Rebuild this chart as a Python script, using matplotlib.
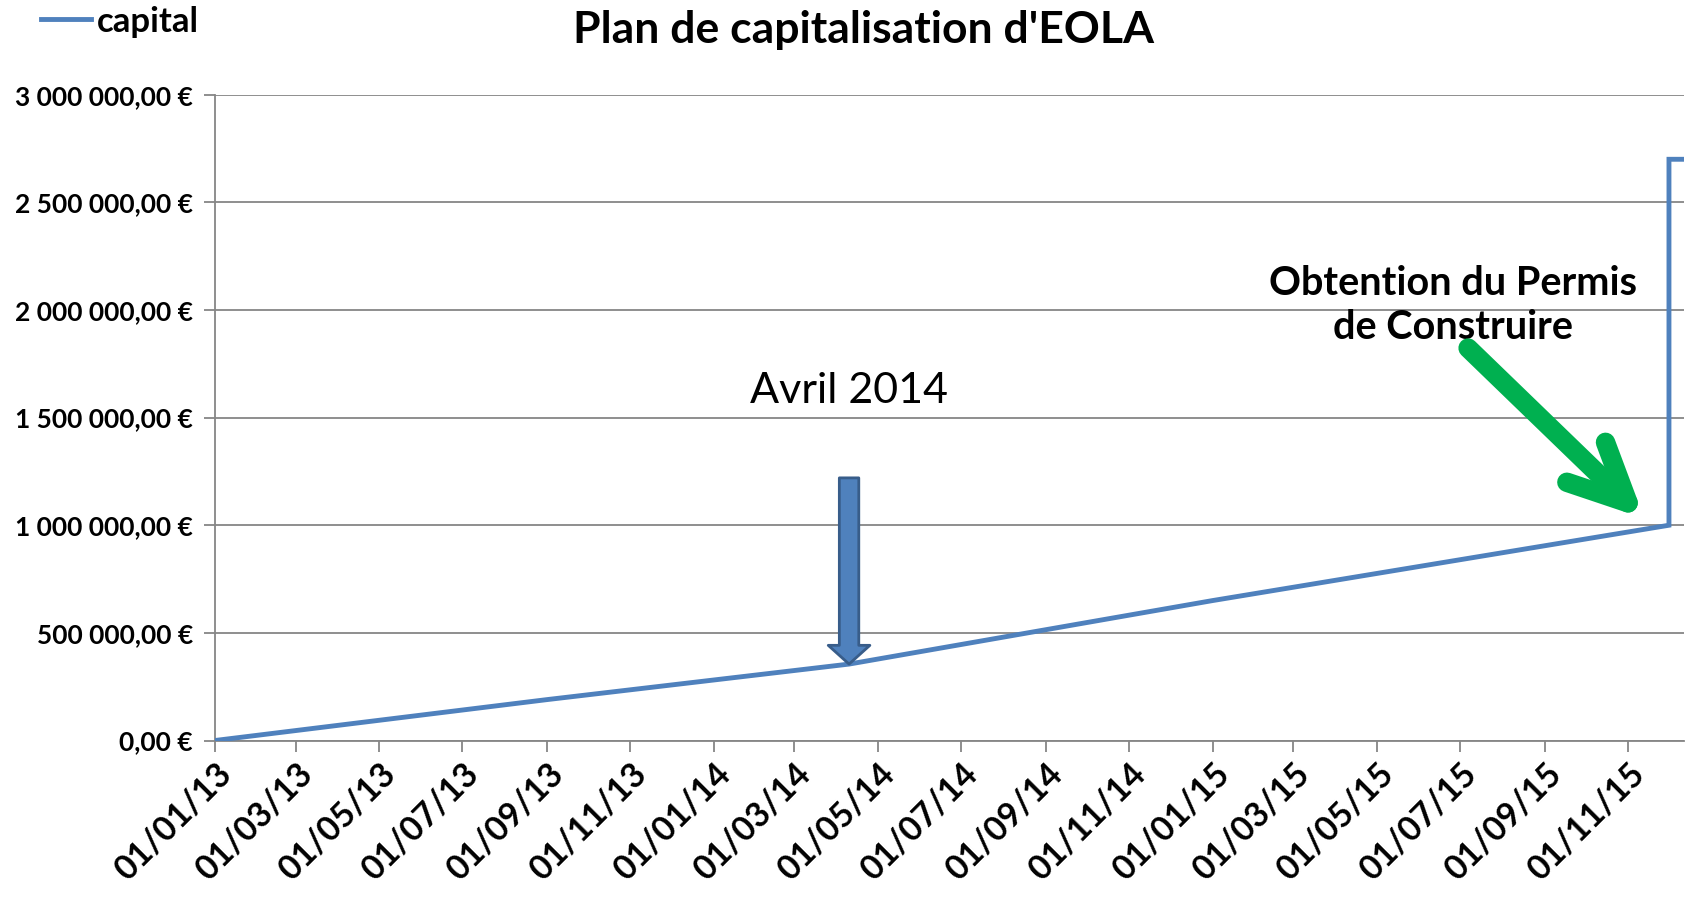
import pandas as pd
import matplotlib
matplotlib.use('Agg')
import matplotlib.pyplot as plt
import matplotlib.dates as mdates
from matplotlib.patches import FancyArrowPatch, ArrowStyle
from matplotlib.ticker import FuncFormatter, MultipleLocator

plt.rcParams['font.family'] = ['Lato', 'DejaVu Sans']

# données
dates = pd.to_datetime(['2013-01-01', '2013-09-01', '2014-04-10', '2015-01-01',
                        '2015-12-01', '2015-12-01', '2015-12-12'])
capital = [0, 190000, 355000, 650000, 1000000, 2700000, 2700000]

titre = "Plan de capitalisation d'EOLA"
nom_serie = 'capital'
texte_avril = 'Avril 2014'
texte_permis = 'Obtention du Permis\nde Construire'

# positions des annotations (dates / valeurs)
date_avril = pd.Timestamp('2014-04-10')
val_avril = 355000
date_permis_txt = pd.Timestamp('2015-06-26')
date_fleche_debut = pd.Timestamp('2015-07-07')
date_fleche_fin = pd.Timestamp('2015-11-13')

bleu = '#4F81BD'
gris = '#868686'

fig = plt.figure(figsize=(16.88, 9), dpi=100)
ax = fig.add_axes([215/1688, 1 - 740.5/900, (1684 - 215)/1688, (740.5 - 94.7)/900])

ax.plot(dates, capital, color=bleu, lw=3.5, label=nom_serie, solid_joinstyle='miter', zorder=3)

ax.set_ylim(0, 3000000)
ax.set_xlim(pd.Timestamp('2013-01-01'), pd.Timestamp('2015-12-12'))
ax.yaxis.set_major_locator(MultipleLocator(500000))

def fmt_euro(v, pos):
    s = f'{v:,.2f}'.replace(',', ' ').replace('.', ',')
    return s + ' €'

ax.yaxis.set_major_formatter(FuncFormatter(fmt_euro))
ax.xaxis.set_major_locator(mdates.MonthLocator(bymonth=[1, 3, 5, 7, 9, 11], bymonthday=1))
ax.xaxis.set_major_formatter(mdates.DateFormatter('%d/%m/%y'))

ax.grid(axis='y', color=gris, lw=1.3)
ax.set_axisbelow(True)
for s in ['top', 'right']:
    ax.spines[s].set_visible(False)
for s in ['left', 'bottom']:
    ax.spines[s].set_color(gris)
    ax.spines[s].set_linewidth(1.3)

ax.tick_params(axis='both', colors=gris, length=8, width=1.3, direction='out')
ax.tick_params(axis='y', labelcolor='black', labelsize=19, pad=8)
ax.tick_params(axis='x', labelcolor='black', labelsize=24.5, pad=4)
for lab in ax.get_yticklabels():
    lab.set_fontweight('bold')
for lab in ax.get_xticklabels():
    lab.set_fontweight('bold')
    lab.set_rotation(45)
    lab.set_ha('right')
    lab.set_rotation_mode('anchor')

# titre et légende
fig.text(864/1688, 1 - 30/900, titre, ha='center', va='center', fontsize=32, fontweight='bold')
leg = fig.legend(loc='center left', bbox_to_anchor=(41/1688, 1 - 21.5/900), frameon=False,
                 borderpad=0, borderaxespad=0, handlelength=1.45, handletextpad=0.15,
                 prop={'size': 25, 'weight': 'bold'})

# flèche bleue "Avril 2014"
fleche_bleue = FancyArrowPatch((date_avril, 1220000), (date_avril, val_avril),
                               arrowstyle=ArrowStyle('simple', head_length=13.5, head_width=30, tail_width=14),
                               mutation_scale=1, shrinkA=0, shrinkB=0,
                               facecolor=bleu, edgecolor='#385D8A', lw=2, zorder=5)
ax.add_patch(fleche_bleue)
ax.text(date_avril, 1625000, texte_avril, ha='center', va='center', fontsize=31)

# flèche verte "Obtention du Permis"
fleche_verte = FancyArrowPatch((date_fleche_debut, 1823000), (date_fleche_fin, 1031000),
                               arrowstyle=ArrowStyle('->', head_length=42, head_width=20),
                               mutation_scale=1, shrinkA=0, shrinkB=0,
                               color='#00B050', lw=14, capstyle='round', joinstyle='round', zorder=5)
ax.add_patch(fleche_verte)
ax.text(date_permis_txt, 2020000, texte_permis, ha='center', va='center', fontsize=28.5,
        fontweight='bold', linespacing=1.25)

fig.savefig('out.png', dpi=100)
